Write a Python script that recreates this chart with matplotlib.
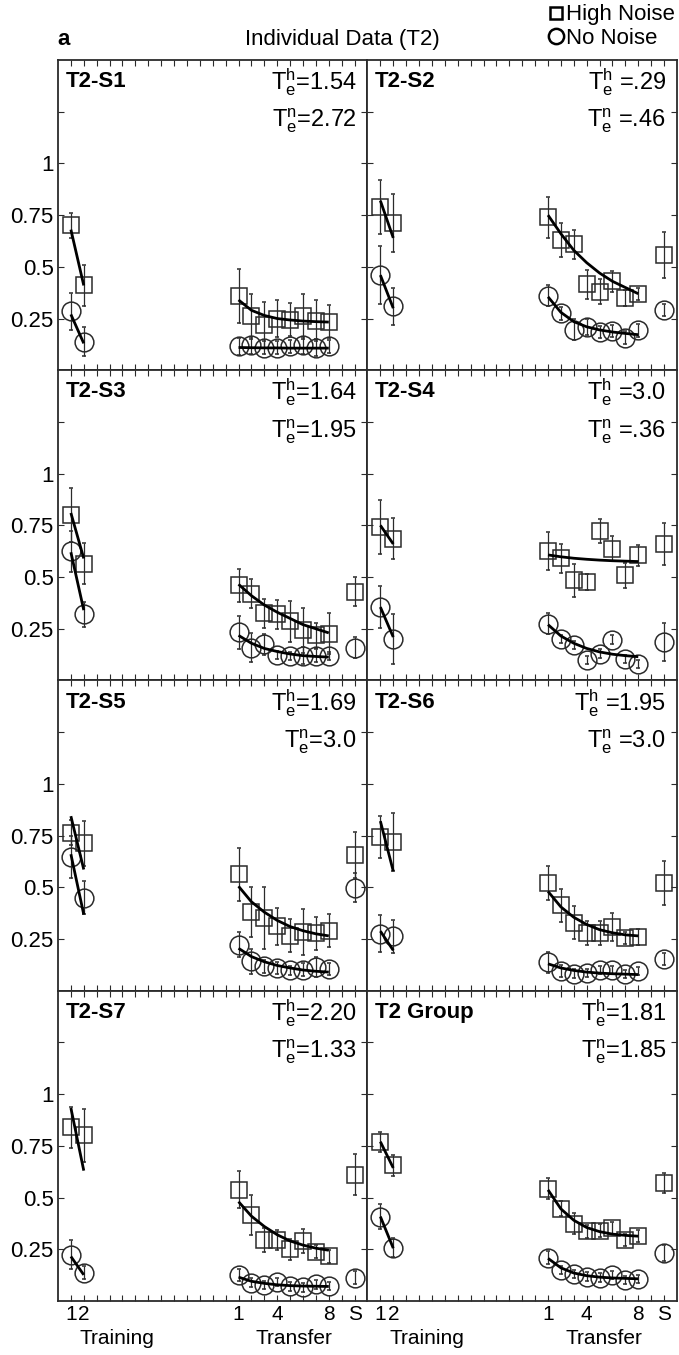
import matplotlib.pyplot as plt
import numpy as np
from matplotlib.lines import Line2D

plt.rcParams['font.family'] = ['Liberation Sans', 'DejaVu Sans']
plt.rcParams['mathtext.fontset'] = 'custom'
plt.rcParams['mathtext.rm'] = 'Liberation Sans'
plt.rcParams['mathtext.it'] = 'Liberation Sans:italic'

# panel order: row by row, left then right
names = ['T2-S1', 'T2-S2', 'T2-S3', 'T2-S4', 'T2-S5', 'T2-S6', 'T2-S7', 'T2 Group']
te_high = ['1.54', '.29', '1.64', '3.0', '1.69', '1.95', '2.20', '1.81']
te_none = ['2.72', '.46', '1.95', '.36', '3.0', '3.0', '1.33', '1.85']
te_spaced = [False, True, False, True, False, True, False, False]

# training sessions 1-2
train_high = [[0.70, 0.41], [0.79, 0.71], [0.80, 0.565], [0.742, 0.686],
              [0.764, 0.712], [0.744, 0.718], [0.84, 0.80], [0.768, 0.655]]
train_high_err = [[0.06, 0.10], [0.13, 0.14], [0.13, 0.10], [0.13, 0.10],
                  [0.06, 0.11], [0.10, 0.14], [0.10, 0.13], [0.05, 0.05]]
train_none = [[0.285, 0.137], [0.46, 0.31], [0.625, 0.32], [0.355, 0.20],
              [0.647, 0.449], [0.276, 0.263], [0.223, 0.137], [0.408, 0.258]]
train_none_err = [[0.09, 0.07], [0.14, 0.09], [0.10, 0.06], [0.10, 0.12],
                  [0.10, 0.08], [0.09, 0.08], [0.07, 0.03], [0.06, 0.045]]
train_fit_high = [[0.68, 0.41], [0.82, 0.64], [0.81, 0.59], [0.75, 0.66],
                  [0.844, 0.586], [0.82, 0.578], [0.933, 0.63], [0.77, 0.643]]
train_fit_none = [[0.27, 0.13], [0.46, 0.30], [0.62, 0.34], [0.355, 0.21],
                  [0.66, 0.368], [0.288, 0.195], [0.215, 0.126], [0.408, 0.255]]

# transfer sessions 1-8
xfer_high = [
    [0.36, 0.26, 0.22, 0.25, 0.245, 0.26, 0.24, 0.235],
    [0.74, 0.63, 0.61, 0.415, 0.38, 0.43, 0.35, 0.37],
    [0.46, 0.42, 0.326, 0.32, 0.286, 0.242, 0.218, 0.227],
    [0.626, 0.592, 0.484, 0.476, 0.723, 0.638, 0.508, 0.605],
    [0.562, 0.381, 0.352, 0.311, 0.266, 0.285, 0.277, 0.29],
    [0.521, 0.413, 0.328, 0.279, 0.279, 0.308, 0.255, 0.26],
    [0.538, 0.416, 0.295, 0.295, 0.25, 0.29, 0.239, 0.215],
    [0.542, 0.446, 0.373, 0.336, 0.34, 0.352, 0.295, 0.315],
]
xfer_high_err = [
    [0.13, 0.11, 0.11, 0.09, 0.08, 0.11, 0.10, 0.08],
    [0.10, 0.08, 0.07, 0.07, 0.06, 0.05, 0.04, 0.03],
    [0.08, 0.07, 0.07, 0.07, 0.10, 0.11, 0.06, 0.10],
    [0.09, 0.07, 0.08, 0.04, 0.06, 0.06, 0.06, 0.05],
    [0.13, 0.12, 0.15, 0.09, 0.08, 0.11, 0.08, 0.08],
    [0.08, 0.08, 0.08, 0.06, 0.06, 0.07, 0.03, 0.04],
    [0.09, 0.095, 0.06, 0.05, 0.05, 0.06, 0.03, 0.03],
    [0.05, 0.035, 0.05, 0.03, 0.03, 0.03, 0.03, 0.03],
]
xfer_none = [
    [0.115, 0.12, 0.11, 0.11, 0.115, 0.12, 0.11, 0.115],
    [0.36, 0.275, 0.197, 0.21, 0.185, 0.19, 0.158, 0.193],
    [0.234, 0.158, 0.174, 0.124, 0.12, 0.12, 0.12, 0.12],
    [0.274, 0.20, 0.17, 0.10, 0.13, 0.198, 0.103, 0.078],
    [0.223, 0.142, 0.118, 0.11, 0.098, 0.102, 0.115, 0.105],
    [0.137, 0.094, 0.083, 0.087, 0.10, 0.10, 0.08, 0.094],
    [0.126, 0.089, 0.078, 0.092, 0.07, 0.065, 0.08, 0.072],
    [0.21, 0.15, 0.129, 0.118, 0.113, 0.125, 0.102, 0.107],
]
xfer_none_err = [
    [0.04, 0.04, 0.03, 0.03, 0.03, 0.04, 0.04, 0.03],
    [0.05, 0.03, 0.05, 0.04, 0.03, 0.03, 0.03, 0.03],
    [0.08, 0.07, 0.05, 0.02, 0.02, 0.04, 0.03, 0.02],
    [0.05, 0.02, 0.02, 0.02, 0.02, 0.02, 0.02, 0.02],
    [0.06, 0.06, 0.03, 0.03, 0.02, 0.03, 0.05, 0.03],
    [0.05, 0.03, 0.02, 0.02, 0.02, 0.02, 0.02, 0.02],
    [0.03, 0.02, 0.02, 0.02, 0.02, 0.02, 0.02, 0.02],
    [0.03, 0.02, 0.02, 0.02, 0.02, 0.02, 0.02, 0.02],
]
xfer_fit_high = [
    [0.34, 0.29, 0.265, 0.25, 0.243, 0.238, 0.235, 0.233],
    [0.75, 0.66, 0.58, 0.52, 0.47, 0.43, 0.40, 0.37],
    [0.465, 0.41, 0.365, 0.33, 0.30, 0.27, 0.25, 0.23],
    [0.607, 0.598, 0.591, 0.586, 0.582, 0.579, 0.577, 0.575],
    [0.505, 0.43, 0.38, 0.34, 0.31, 0.29, 0.275, 0.265],
    [0.48, 0.405, 0.355, 0.32, 0.295, 0.28, 0.27, 0.265],
    [0.48, 0.41, 0.36, 0.32, 0.29, 0.27, 0.255, 0.245],
    [0.537, 0.445, 0.39, 0.355, 0.335, 0.323, 0.317, 0.313],
]
xfer_fit_none = [
    [0.11, 0.109, 0.108, 0.108, 0.107, 0.107, 0.107, 0.107],
    [0.355, 0.28, 0.235, 0.21, 0.195, 0.185, 0.178, 0.172],
    [0.218, 0.18, 0.155, 0.14, 0.128, 0.12, 0.116, 0.113],
    [0.27, 0.215, 0.18, 0.155, 0.138, 0.127, 0.12, 0.115],
    [0.205, 0.165, 0.14, 0.122, 0.11, 0.10, 0.094, 0.09],
    [0.13, 0.11, 0.098, 0.09, 0.085, 0.082, 0.08, 0.078],
    [0.115, 0.095, 0.085, 0.078, 0.074, 0.072, 0.071, 0.07],
    [0.206, 0.16, 0.135, 0.122, 0.115, 0.111, 0.109, 0.107],
]

# "S" session (None where not run)
s_high = [None, 0.557, 0.428, 0.66, 0.655, 0.521, 0.61, 0.57]
s_high_err = [None, 0.11, 0.07, 0.10, 0.11, 0.105, 0.10, 0.05]
s_none = [None, 0.29, 0.158, 0.186, 0.497, 0.153, 0.113, 0.231]
s_none_err = [None, 0.03, 0.05, 0.09, 0.07, 0.03, 0.03, 0.04]

train_x = np.array([1, 2])
xfer_x = np.arange(1, 9) + 13
s_x = 23

mk = '#2b2b2b'
sq_style = dict(fmt='s', ms=11, mfc='none', mec=mk, mew=1.1, ecolor=mk,
                elinewidth=0.9, capsize=1.2, capthick=0.9)
ci_style = dict(sq_style, fmt='o', ms=13.5)

fig, axes = plt.subplots(4, 2, figsize=(6.79, 13.55), dpi=100,
                         sharex=True, sharey=True)
fig.subplots_adjust(left=0.0854, right=0.997, top=0.9557, bottom=0.0399,
                    wspace=0, hspace=0)

for i, ax in enumerate(axes.flat):
    ax.errorbar(train_x, train_high[i], yerr=train_high_err[i], **sq_style)
    ax.errorbar(train_x, train_none[i], yerr=train_none_err[i], **ci_style)
    ax.errorbar(xfer_x, xfer_high[i], yerr=xfer_high_err[i], **sq_style)
    ax.errorbar(xfer_x, xfer_none[i], yerr=xfer_none_err[i], **ci_style)
    if s_high[i] is not None:
        ax.errorbar([s_x], [s_high[i]], yerr=[s_high_err[i]], **sq_style)
        ax.errorbar([s_x], [s_none[i]], yerr=[s_none_err[i]], **ci_style)

    for yy, xx in [(train_fit_high[i], train_x), (train_fit_none[i], train_x),
                   (xfer_fit_high[i], xfer_x), (xfer_fit_none[i], xfer_x)]:
        ax.plot(xx, yy, color='k', lw=2.0, solid_capstyle='butt', zorder=4)

    eq = ' =' if te_spaced[i] else '='
    ax.text(0.025, 0.93, names[i], transform=ax.transAxes, fontsize=16,
            fontweight='bold', va='center', ha='left')
    ax.text(0.965, 0.928, r'$\mathregular{T_e^h}$' + eq + te_high[i],
            transform=ax.transAxes, fontsize=17, va='center', ha='right')
    ax.text(0.965, 0.803, r'$\mathregular{T_e^n}$' + eq + te_none[i],
            transform=ax.transAxes, fontsize=17, va='center', ha='right')

    ax.set_xlim(0, 24)
    ax.set_ylim(0, 1.5)
    ax.set_xticks([1, 2, 14, 17, 21, 23])
    ax.set_xticklabels(['1', '2', '1', '4', '8', 'S'])
    ax.set_xticks(np.arange(1, 24), minor=True)
    ax.set_yticks([0.25, 0.5, 0.75, 1, 1.25])
    ax.set_yticklabels(['0.25', '0.5', '0.75', '1', ''])
    ax.tick_params(which='both', direction='in', top=True, right=True,
                   length=4, width=0.8, color=mk, labelsize=15, pad=3)
    ax.tick_params(axis='y', labelsize=16)
    for sp in ax.spines.values():
        sp.set_linewidth(1.3)
        sp.set_color(mk)

for ax in axes[-1]:
    ax.text(4.6, -0.12, 'Training', transform=ax.get_xaxis_transform(),
            fontsize=15, ha='center', va='center')
    ax.text(18.3, -0.12, 'Transfer', transform=ax.get_xaxis_transform(),
            fontsize=15, ha='center', va='center')

fig.text(0.085, 0.971, 'a', fontsize=16, fontweight='bold', ha='left', va='center')
fig.text(0.504, 0.971, 'Individual Data (T2)', fontsize=16, ha='center', va='center')

handles = [Line2D([], [], ls='none', marker='s', ms=9, mfc='none', mec='k', mew=1.8),
           Line2D([], [], ls='none', marker='o', ms=11, mfc='none', mec='k', mew=1.8)]
fig.legend(handles, ['High Noise', 'No Noise'], loc='upper right',
           bbox_to_anchor=(1.0, 1.0), frameon=False, fontsize=16,
           handlelength=0.7, handletextpad=0.1, labelspacing=0.1,
           borderpad=0.1, borderaxespad=0.1)

plt.savefig('out.png')
